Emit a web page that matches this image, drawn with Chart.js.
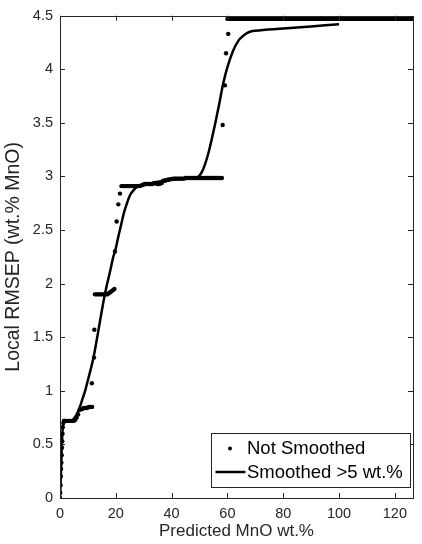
<!DOCTYPE html>
<html>
<head>
<meta charset="utf-8">
<script src="https://cdn.jsdelivr.net/npm/chart.js@4.4.1/dist/chart.umd.min.js"></script>
<style>
html,body{margin:0;padding:0;background:#fff;}
#wrap{width:422px;height:544px;position:relative;}
</style>
</head>
<body>
<div id="wrap"><canvas id="c" width="422" height="544"></canvas></div>
<script>
// ---- data ----
const rawX = [0,0.1,0.2,0.3,0.4,0.5,0.6,0.7,0.8,0.9,1.0,1.2,1.4,
  1.5,2,2.5,3,3.5,4,4.5,5,5.5,6,6.5,7,
  7.5,8,8.5,9,9.5,10,10.5,11,11.5,
  11.4,12.2,12.3,
  12.5,13,13.5,14,14.5,15,15.5,16,16.5,17,17.5,18,18.5,19,19.5,
  19.7,20.3,20.9,21.5,
  22,22.5,23,23.5,24,24.5,25,25.5,26,26.5,27,27.5,28,28.5,29,29.5,
  30,30.5,31,31.5,32,32.5,33,33.5,34,34.5,35,35.5,36,36.5,
  37,37.5,38,38.5,39,39.5,
  40,40.5,41,41.5,42,42.5,43,43.5,44,44.5,
  45,45.5,46,46.5,47,47.5,48,48.5,49,49.5,
  50,50.5,51,51.5,52,52.5,53,53.5,54,54.5,
  55,55.5,56,56.5,57,57.5,58,
  58.3,59.1,59.5,60.3,
  60,60.5,61,61.5,62,62.5,63,63.5,64,64.5,
  65,65.5,66,66.5,67,67.5,68,68.5,69,69.5,
  70,70.5,71,71.5,72,72.5,73,73.5,74,74.5,
  75,75.5,76,76.5,77,77.5,78,78.5,79,79.5,
  80,80.5,81,81.5,82,82.5,83,83.5,84,84.5,
  85,85.5,86,86.5,87,87.5,88,88.5,89,89.5,
  90,90.5,91,91.5,92,92.5,93,93.5,94,94.5,
  95,95.5,96,96.5,97,97.5,98,98.5,99,99.5,
  100,100.5,101,101.5,102,102.5,103,103.5,104,104.5,
  105,105.5,106,106.5,107,107.5,108,108.5,109,109.5,
  110,110.5,111,111.5,112,112.5,113,113.5,114,114.5,
  115,115.5,116,116.5,117,117.5,118,118.5,119,119.5,
  120,120.5,121,121.5,122,122.5,123,123.5,124,124.5,
  125,125.5,126];
const rawY = [0,0.05,0.12,0.2,0.27,0.33,0.4,0.47,0.53,0.6,0.66,0.70,0.72,
  0.72,0.72,0.72,0.72,0.72,0.72,0.72,0.72,0.73,0.75,0.78,0.82,
  0.83,0.83,0.84,0.84,0.84,0.845,0.85,0.85,0.85,
  1.07,1.31,1.57,
  1.9,1.9,1.9,1.9,1.9,1.9,1.9,1.9,1.9,1.9,1.91,1.92,1.93,1.94,1.95,
  2.30,2.58,2.74,2.84,
  2.91,2.91,2.91,2.91,2.91,2.91,2.91,2.91,2.91,2.91,2.91,2.91,2.91,2.91,2.915,2.92,
  2.925,2.93,2.93,2.93,2.93,2.93,2.93,2.935,2.94,2.935,2.93,2.93,2.935,2.94,
  2.96,2.96,2.965,2.97,2.97,2.975,
  2.975,2.98,2.98,2.98,2.98,2.98,2.98,2.98,2.98,2.98,
  2.985,2.985,2.985,2.985,2.985,2.985,2.985,2.985,2.985,2.985,
  2.985,2.985,2.985,2.985,2.985,2.985,2.985,2.985,2.985,2.985,
  2.985,2.985,2.985,2.985,2.985,2.985,2.985,
  3.48,3.85,4.15,4.33,
  4.47,4.47,4.47,4.47,4.47,4.47,4.47,4.47,4.47,4.47,
  4.47,4.47,4.47,4.47,4.47,4.47,4.47,4.47,4.47,4.47,
  4.47,4.47,4.47,4.47,4.47,4.47,4.47,4.47,4.47,4.47,
  4.47,4.47,4.47,4.47,4.47,4.47,4.47,4.47,4.47,4.47,
  4.47,4.47,4.47,4.47,4.47,4.47,4.47,4.47,4.47,4.47,
  4.47,4.47,4.47,4.47,4.47,4.47,4.47,4.47,4.47,4.47,
  4.47,4.47,4.47,4.47,4.47,4.47,4.47,4.47,4.47,4.47,
  4.47,4.47,4.47,4.47,4.47,4.47,4.47,4.47,4.47,4.47,
  4.47,4.47,4.47,4.47,4.47,4.47,4.47,4.47,4.47,4.47,
  4.47,4.47,4.47,4.47,4.47,4.47,4.47,4.47,4.47,4.47,
  4.47,4.47,4.47,4.47,4.47,4.47,4.47,4.47,4.47,4.47,
  4.47,4.47,4.47,4.47,4.47,4.47,4.47,4.47,4.47,4.47,
  4.47,4.47,4.47,4.47,4.47,4.47,4.47,4.47,4.47,4.47,
  4.47,4.47,4.47];
const smoothX = [0,0.3,0.6,1,1.5,2.5,4,5,6,7,8,9,10,11,12,13,14,15,16,17,18,19,20,21,22,23,24,25,26,27,28,30,35,40,45,49,51,53,55,57,58.5,60,62,64,66,68,70,80,90,100];
const smoothY = [0,0.2,0.45,0.66,0.71,0.72,0.72,0.74,0.78,0.84,0.92,1.0,1.1,1.2,1.31,1.45,1.6,1.75,1.89,2.01,2.12,2.24,2.33,2.45,2.56,2.67,2.75,2.82,2.86,2.89,2.91,2.92,2.95,2.97,2.98,2.99,3.05,3.2,3.42,3.67,3.87,4.02,4.17,4.27,4.32,4.35,4.36,4.38,4.40,4.42];
const xTicks = [0,20,40,60,80,100,120];
const yTicks = [0,0.5,1,1.5,2,2.5,3,3.5,4,4.5];
const seriesNames = ['Not Smoothed','Smoothed >5 wt.%'];
const xTitle = 'Predicted MnO wt.%';
const yTitle = 'Local RMSEP (wt.% MnO)';

const AX = '#262626';
const FONT = "'Liberation Sans', Arial, sans-serif";

const boxPlugin = {
  id: 'matlabBox',
  afterDraw(chart) {
    const {ctx, chartArea: a, scales} = chart;
    ctx.save();
    ctx.strokeStyle = AX;
    ctx.lineWidth = 1;
    ctx.strokeRect(Math.round(a.left)+0.5, Math.round(a.top)+0.5, Math.round(a.right-a.left), Math.round(a.bottom-a.top));
    const L = 5;
    ctx.beginPath();
    scales.x.ticks.forEach(t => {
      const px = Math.round(scales.x.getPixelForValue(t.value)) + 0.5;
      ctx.moveTo(px, a.bottom); ctx.lineTo(px, a.bottom - L);
      ctx.moveTo(px, a.top); ctx.lineTo(px, a.top + L);
    });
    scales.y.ticks.forEach(t => {
      const py = Math.round(scales.y.getPixelForValue(t.value)) + 0.5;
      ctx.moveTo(a.left, py); ctx.lineTo(a.left + L, py);
      ctx.moveTo(a.right, py); ctx.lineTo(a.right - L, py);
    });
    ctx.stroke();
    // legend (southeast, MATLAB style)
    const bx = a.right - 202, by = a.bottom - 65, bw = 199, bh = 54;
    ctx.fillStyle = '#fff';
    ctx.fillRect(bx, by, bw, bh);
    ctx.strokeRect(Math.round(bx)+0.5, Math.round(by)+0.5, bw, bh);
    ctx.fillStyle = '#000';
    ctx.font = "18.5px " + FONT;
    ctx.textBaseline = 'middle';
    ctx.textAlign = 'left';
    ctx.beginPath();
    ctx.arc(bx + 19, by + 15.5, 2, 0, Math.PI*2);
    ctx.fill();
    ctx.fillText(seriesNames[0], bx + 36, by + 16);
    ctx.beginPath();
    ctx.lineWidth = 2.5;
    ctx.strokeStyle = '#000';
    ctx.moveTo(bx + 4.5, by + 39); ctx.lineTo(bx + 34.5, by + 39);
    ctx.stroke();
    ctx.fillText(seriesNames[1], bx + 36, by + 39.5);
    ctx.restore();
  }
};

new Chart(document.getElementById('c'), {
  type: 'scatter',
  data: {
    datasets: [
      {
        label: seriesNames[1],
        data: smoothX.map((x,i)=>({x, y: smoothY[i]})),
        showLine: true,
        borderColor: '#000',
        borderWidth: 2.5,
        pointRadius: 0,
        cubicInterpolationMode: 'monotone',
        order: 0
      },
      {
        label: seriesNames[0],
        data: rawX.map((x,i)=>({x, y: rawY[i]})),
        showLine: false,
        backgroundColor: '#000',
        borderColor: '#000',
        borderWidth: 0,
        pointRadius: 2.2,
        order: 1
      }
    ]
  },
  options: {
    responsive: false,
    animation: false,
    devicePixelRatio: 1,
    layout: {padding: {top: 15, right: 9, left: 0, bottom: 0}},
    plugins: {legend: {display: false}, tooltip: {enabled: false}},
    scales: {
      x: {
        type: 'linear', min: 0, max: 126.5,
        afterBuildTicks: s => { s.ticks = xTicks.map(v => ({value: v})); },
        afterFit: s => { s.height = 46; },
        grid: {display: false, drawTicks: false},
        border: {display: false},
        ticks: {color: AX, font: {family: FONT, size: 14.5}, padding: 7, maxRotation: 0, callback: v => String(v)},
        title: {display: true, text: xTitle, color: AX, font: {family: FONT, size: 17}, padding: {top: 0, bottom: 2}}
      },
      y: {
        type: 'linear', min: 0, max: 4.5,
        afterBuildTicks: s => { s.ticks = yTicks.map(v => ({value: v})); },
        afterFit: s => { s.width = 60; },
        grid: {display: false, drawTicks: false},
        border: {display: false},
        ticks: {color: AX, font: {family: FONT, size: 14.5}, padding: 7, callback: v => String(v)},
        title: {display: true, text: yTitle, color: AX, font: {family: FONT, size: 19.5}, padding: {top: 2, bottom: 2}}
      }
    }
  },
  plugins: [boxPlugin]
});
</script>
</body>
</html>
